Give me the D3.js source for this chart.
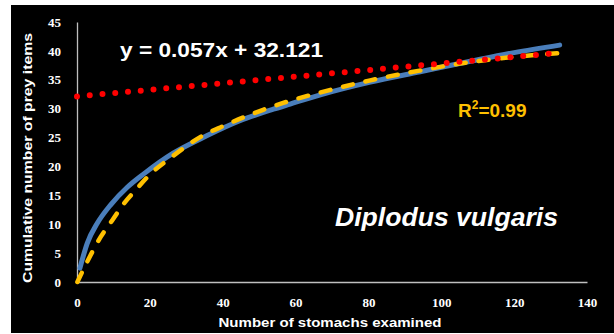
<!DOCTYPE html>
<html><head><meta charset="utf-8">
<script src="https://cdn.jsdelivr.net/npm/d3@7"></script>
<style>html,body{margin:0;padding:0;background:#fff;}svg{display:block;}</style>
</head><body>
<svg id="c" width="614" height="334"></svg>
<script>
// Observed cumulative curve (blue)
const obsX = [0.8, 2.8, 5.6, 9.3, 13.8, 18.5, 26.4, 35.6, 44.7, 53.9, 58.5, 66.8, 80.5, 94.2, 108, 120, 132.5];
const obsY = [2.4, 6.7, 10.2, 13.4, 16.4, 18.8, 22.3, 25.3, 27.9, 29.9, 30.8, 32.4, 34.6, 36.4, 38.2, 39.7, 41.0];
// Fitted curve (yellow dashed)
const fitX = [0.1, 2.8, 6.5, 9.7, 12.9, 16.1, 20, 25.5, 34.7, 40.2, 45.7, 51.1, 56.6, 66.8, 80.5, 94.2, 105, 119, 132];
const fitY = [0, 3.5, 7.8, 10.7, 13.6, 15.9, 18.6, 21.4, 25.4, 27.0, 28.5, 29.8, 31.0, 32.8, 34.9, 36.6, 37.8, 38.9, 39.6];
// Linear trend (red dotted)
const trendX = [0, 132];
const trendY = [32.121, 39.645];
const xTicks = [0, 20, 40, 60, 80, 100, 120, 140];
const yTicks = [0, 5, 10, 15, 20, 25, 30, 35, 40, 45];

const svg = d3.select("#c");
svg.append("rect").attr("x", 11).attr("y", 5).attr("width", 603).attr("height", 328).attr("fill", "#000");

const x = d3.scaleLinear().domain([0, 140]).range([77, 587]);
const y = d3.scaleLinear().domain([0, 45]).range([282, 22]);

const axisColor = "#bfbfbf";
const xAxis = svg.append("g").attr("transform", "translate(0,282)")
  .call(d3.axisBottom(x).tickValues(xTicks).tickSize(0).tickPadding(16));
const yAxis = svg.append("g").attr("transform", "translate(77,0)")
  .call(d3.axisLeft(y).tickValues(yTicks).tickSize(0).tickPadding(16));
[xAxis, yAxis].forEach(g => {
  g.select(".domain").attr("stroke", axisColor).attr("stroke-width", 1.3);
  g.selectAll("text").attr("fill", "#fff").attr("font-family", "Liberation Serif")
    .attr("font-weight", "bold").attr("font-size", 13);
});

const pts = (xs, ys) => xs.map((v, i) => [v, ys[i]]);
const line = d3.line().x(d => x(d[0])).y(d => y(d[1])).curve(d3.curveMonotoneX);

svg.append("path").attr("d", line(pts(obsX, obsY))).attr("fill", "none")
  .attr("stroke", "#4a7ebb").attr("stroke-width", 5).attr("stroke-linecap", "round");
svg.append("path").attr("d", line(pts(fitX, fitY))).attr("fill", "none")
  .attr("stroke", "#ffc000").attr("stroke-width", 4.5).attr("stroke-linecap", "round")
  .attr("stroke-dasharray", "10,13");
svg.append("path").attr("d", d3.line().x(d => x(d[0])).y(d => y(d[1]))(pts(trendX, trendY)))
  .attr("fill", "none").attr("stroke", "#ff0000").attr("stroke-width", 6)
  .attr("stroke-linecap", "round").attr("stroke-dasharray", "0,12.8");

svg.append("text").attr("x", 120).attr("y", 57).attr("fill", "#fff")
  .attr("font-family", "Liberation Sans").attr("font-weight", "bold").attr("font-size", 20)
  .attr("textLength", 203).attr("lengthAdjust", "spacingAndGlyphs")
  .text("y = 0.057x + 32.121");

const r2 = svg.append("text").attr("x", 458).attr("y", 117).attr("fill", "#ffc000")
  .attr("font-family", "Liberation Sans").attr("font-weight", "bold").attr("font-size", 19);
r2.append("tspan").text("R");
r2.append("tspan").attr("font-size", 12).attr("dy", -8).text("2");
r2.append("tspan").attr("dy", 8).text("=0.99");

svg.append("text").attr("x", 335).attr("y", 226).attr("fill", "#fff")
  .attr("font-family", "Liberation Sans").attr("font-weight", "bold").attr("font-style", "italic")
  .attr("font-size", 25).attr("textLength", 223).attr("lengthAdjust", "spacingAndGlyphs")
  .text("Diplodus  vulgaris");

svg.append("text").attr("x", 330).attr("y", 327).attr("text-anchor", "middle").attr("fill", "#fff")
  .attr("font-family", "Liberation Sans").attr("font-weight", "bold").attr("font-size", 13)
  .attr("textLength", 223).attr("lengthAdjust", "spacingAndGlyphs")
  .text("Number of stomachs examined");

svg.append("text").attr("transform", "translate(32,158) rotate(-90)").attr("text-anchor", "middle")
  .attr("fill", "#fff").attr("font-family", "Liberation Sans").attr("font-weight", "bold")
  .attr("font-size", 12.5).attr("textLength", 250).attr("lengthAdjust", "spacingAndGlyphs")
  .text("Cumulative number of prey items");
</script>
</body></html>
